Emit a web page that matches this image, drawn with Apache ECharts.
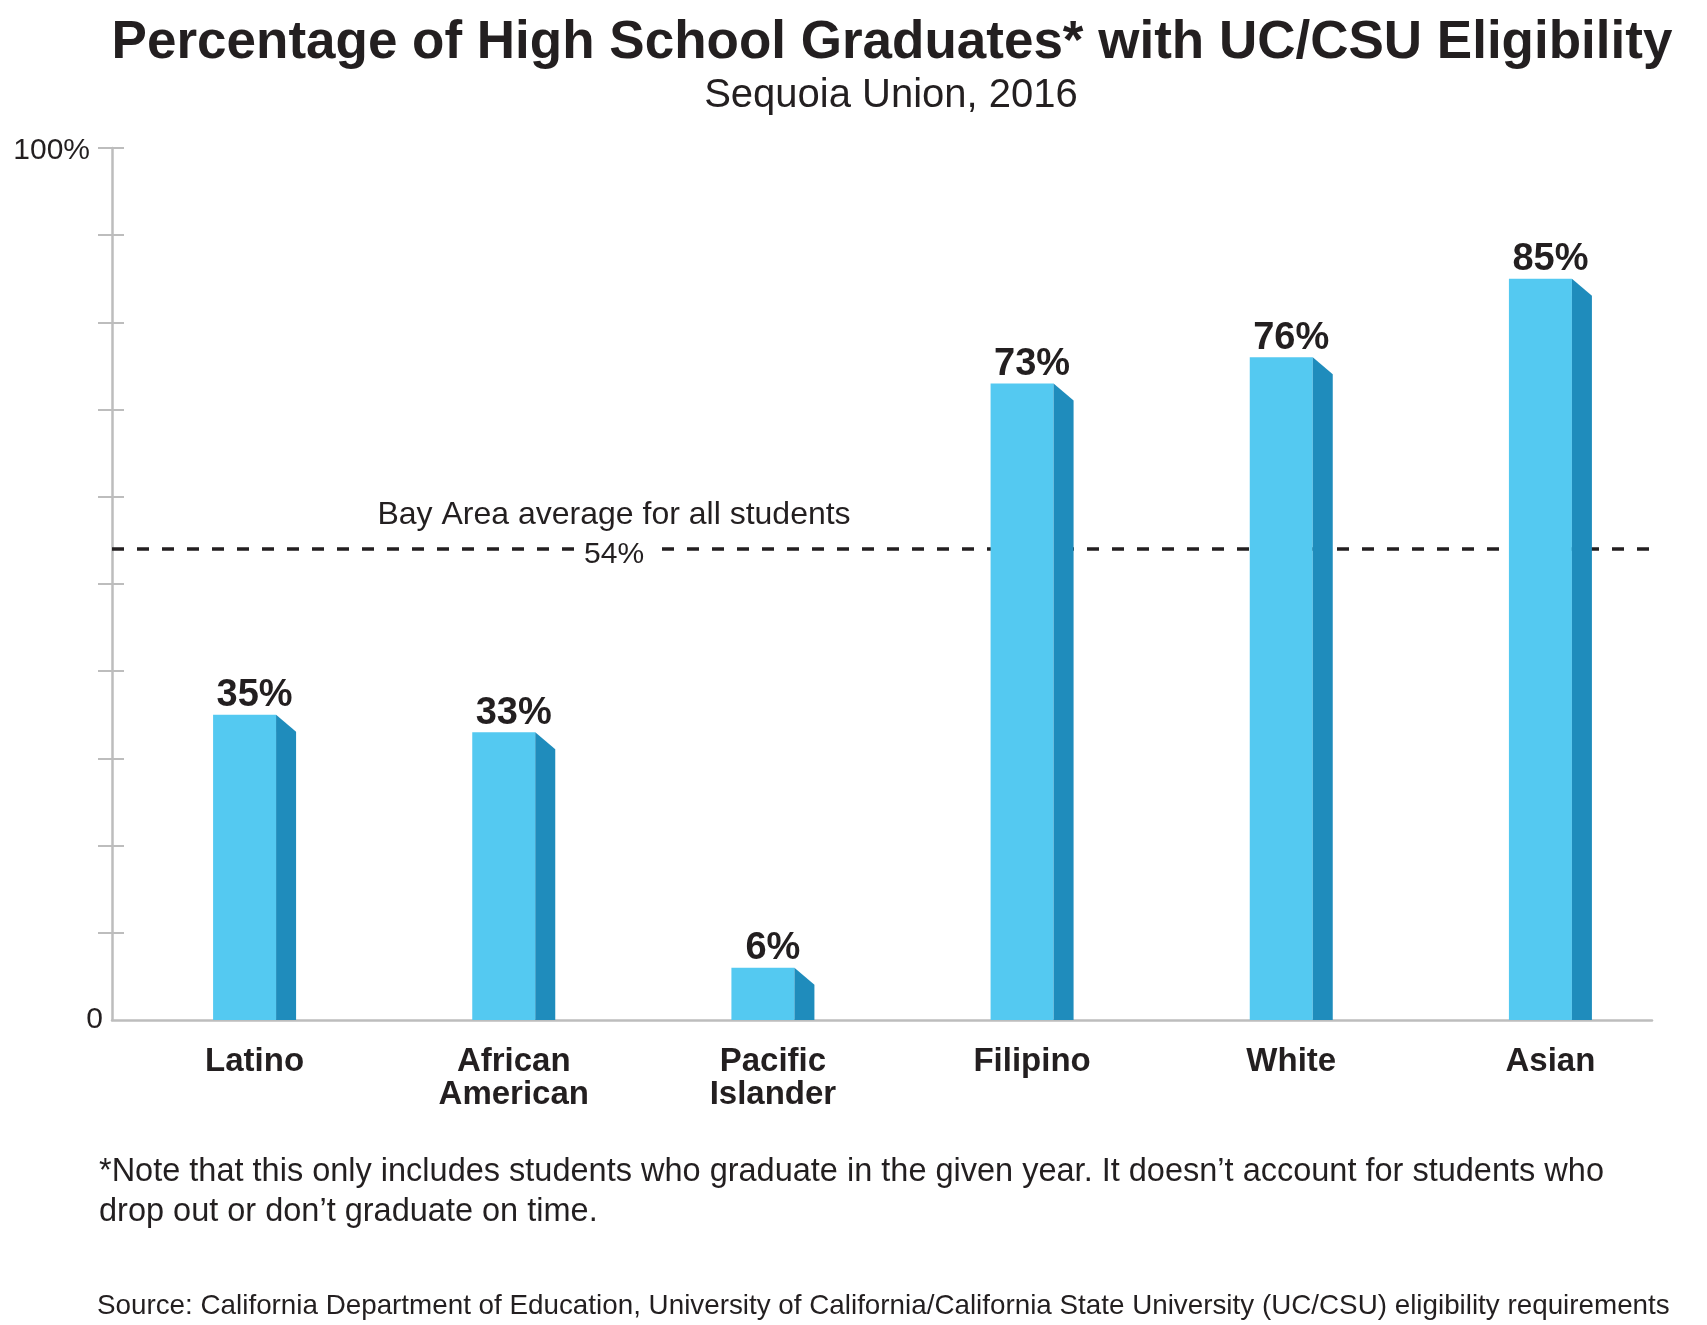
<!DOCTYPE html>
<html>
<head>
<meta charset="utf-8">
<title>UC/CSU Eligibility - Sequoia Union 2016</title>
<script src="https://cdn.jsdelivr.net/npm/echarts@6/dist/echarts.min.js"></script>
<style>
  html, body { margin: 0; padding: 0; background: #fff; }
  #chart { width: 1707px; height: 1325px; }
</style>
</head>
<body>
<div id="chart"></div>
<script>
/* data */
const categories = ['Latino', 'African\nAmerican', 'Pacific\nIslander', 'Filipino', 'White', 'Asian'];
const eligibilityPct = [35, 33, 6, 73, 76, 85];
const bayAreaAvg = 54;
const yTickValues = [10, 20, 30, 40, 50, 60, 70, 80, 90, 100];
const yLabelValues = [0, 100];
const yLabelTexts = ['0', '100%'];

const titleText = 'Percentage of High School Graduates* with UC/CSU Eligibility';
const subtitleText = 'Sequoia Union, 2016';
const avgLabelText = 'Bay Area average for all students';
const noteText = '*Note that this only includes students who graduate in the given year. It doesn\u2019t account for students who\ndrop out or don\u2019t graduate on time.';
const sourceText = 'Source: California Department of Education, University of California/California State University (UC/CSU) eligibility requirements';

/* styles */
const INK = '#231F20';
const AXIS_GREY = '#BDBDBD';
const FRONT_COLOR = '#54C9F1';
const SIDE_COLOR = '#1F8CBC';
const FRONT_W = 63, SIDE_W = 20, SIDE_DROP = 17;
const FONT = '"Liberation Sans", Arial, Helvetica, sans-serif';

/* pseudo 3D bar: front face + slanted side face + value label */
const renderBar = (params, api) => {
  const idx = api.value(0);
  const val = api.value(1);
  const top = api.coord([idx, val]);
  const base = api.coord([idx, 0]);
  const x0 = top[0] - (FRONT_W + SIDE_W) / 2;
  const x1 = x0 + FRONT_W;
  return {
    type: 'group',
    children: [
      { type: 'rect',
        shape: { x: x0, y: top[1], width: FRONT_W, height: base[1] - top[1] },
        style: { fill: FRONT_COLOR } },
      { type: 'polygon',
        shape: { points: [[x1, top[1]], [x1 + SIDE_W, top[1] + SIDE_DROP], [x1 + SIDE_W, base[1]], [x1, base[1]]] },
        style: { fill: SIDE_COLOR } },
      { type: 'text',
        style: { x: top[0], y: top[1], text: val + '%', align: 'center', verticalAlign: 'bottom',
                 fill: INK, fontSize: 38, fontWeight: 'bold', fontFamily: FONT } }
    ]
  };
};

const chart = echarts.init(document.getElementById('chart'), null, { renderer: 'canvas' });

const option = {
  backgroundColor: '#fff',
  animation: false,
  textStyle: { fontFamily: FONT, color: INK },
  title: [
    { text: titleText, left: 887, top: 11, textAlign: 'center',
      textStyle: { fontSize: 53, fontWeight: 'bold', color: INK, fontFamily: FONT, lineHeight: 54 } },
    { text: subtitleText, left: 886, top: 71, textAlign: 'center',
      textStyle: { fontSize: 40, fontWeight: 'normal', color: INK, fontFamily: FONT, lineHeight: 40 } },
    { text: noteText, left: 94, top: 1147,
      textStyle: { fontSize: 32.5, fontWeight: 'normal', color: INK, fontFamily: FONT, lineHeight: 40 } },
    { text: sourceText, left: 92, top: 1287,
      textStyle: { fontSize: 27.8, fontWeight: 'normal', color: INK, fontFamily: FONT, lineHeight: 28 } }
  ],
  grid: [
    // visible axes
    { left: 112, right: 55, top: 148, bottom: 305, containLabel: false },
    // bars (shifted so the 3D bars sit like the original)
    { left: 125, right: 27, top: 148, bottom: 305, containLabel: false }
  ],
  xAxis: [
    { gridIndex: 0, type: 'value', min: 0, max: 1,
      axisLine: { show: true, lineStyle: { color: AXIS_GREY, width: 2.5 } },
      axisTick: { show: false }, axisLabel: { show: false }, splitLine: { show: false } },
    { gridIndex: 1, type: 'category', data: categories, boundaryGap: true,
      axisLine: { show: false }, axisTick: { show: false }, splitLine: { show: false },
      axisLabel: { show: true, interval: 0, margin: 25, verticalAlign: 'top',
                   fontSize: 33, fontWeight: 'bold', lineHeight: 33, color: INK, fontFamily: FONT } }
  ],
  yAxis: [
    { gridIndex: 0, type: 'value', min: 0, max: 100, interval: 10,
      axisLine: { show: true, lineStyle: { color: AXIS_GREY, width: 2.5 } },
      axisTick: { show: true, length: 14, customValues: yTickValues, lineStyle: { color: AXIS_GREY, width: 2 } },
      splitLine: { show: false },
      axisLabel: { show: true, margin: 9, fontSize: 30, color: INK, fontFamily: FONT,
                   customValues: yLabelValues,
                   formatter: (v) => {
                     const k = yLabelValues.indexOf(v);
                     if (k < 0) return '';
                     return v === 100 ? '{p|' + yLabelTexts[k] + '}' : yLabelTexts[k];
                   },
                   rich: { p: { fontSize: 30, color: INK, fontFamily: FONT, padding: [6, 13, 0, 0] } } } },
    // inner half of the crossing ticks
    { gridIndex: 0, type: 'value', min: 0, max: 100, interval: 10, position: 'left',
      axisLine: { show: false },
      axisTick: { show: true, inside: true, length: 12, customValues: yTickValues, lineStyle: { color: AXIS_GREY, width: 2 } },
      axisLabel: { show: false }, splitLine: { show: false } },
    { gridIndex: 1, type: 'value', min: 0, max: 100, show: false }
  ],
  series: [
    { // Bay Area average dashed line
      type: 'line', xAxisIndex: 0, yAxisIndex: 0, data: [], z: 1, silent: true,
      markLine: {
        silent: true, z: 1, symbol: 'none', label: { show: false },
        lineStyle: { color: INK, width: 3.5, type: [12, 13], opacity: 1 },
        data: [{ yAxis: bayAreaAvg }]
      }
    },
    { // label for the average line
      type: 'scatter', xAxisIndex: 0, yAxisIndex: 0, z: 3, silent: true,
      symbolSize: 0, itemStyle: { opacity: 1 }, data: [[0.326, bayAreaAvg]],
      label: {
        show: true, position: 'inside', offset: [0, -14], opacity: 1, color: INK,
        textBorderWidth: 0,
        formatter: '{a|' + avgLabelText + '}\n{b|' + bayAreaAvg + '%}',
        rich: {
          a: { fontSize: 32, color: INK, fontFamily: FONT, lineHeight: 40, textBorderWidth: 0 },
          b: { fontSize: 30, color: INK, fontFamily: FONT, lineHeight: 40, backgroundColor: '#fff',
               padding: [0, 8], textBorderWidth: 0 }
        }
      }
    },
    { // bars
      type: 'custom', xAxisIndex: 1, yAxisIndex: 2, z: 5,
      data: eligibilityPct.map((v, i) => [i, v]),
      encode: { x: 0, y: 1 },
      renderItem: renderBar
    }
  ]
};

chart.setOption(option);
</script>
</body>
</html>
